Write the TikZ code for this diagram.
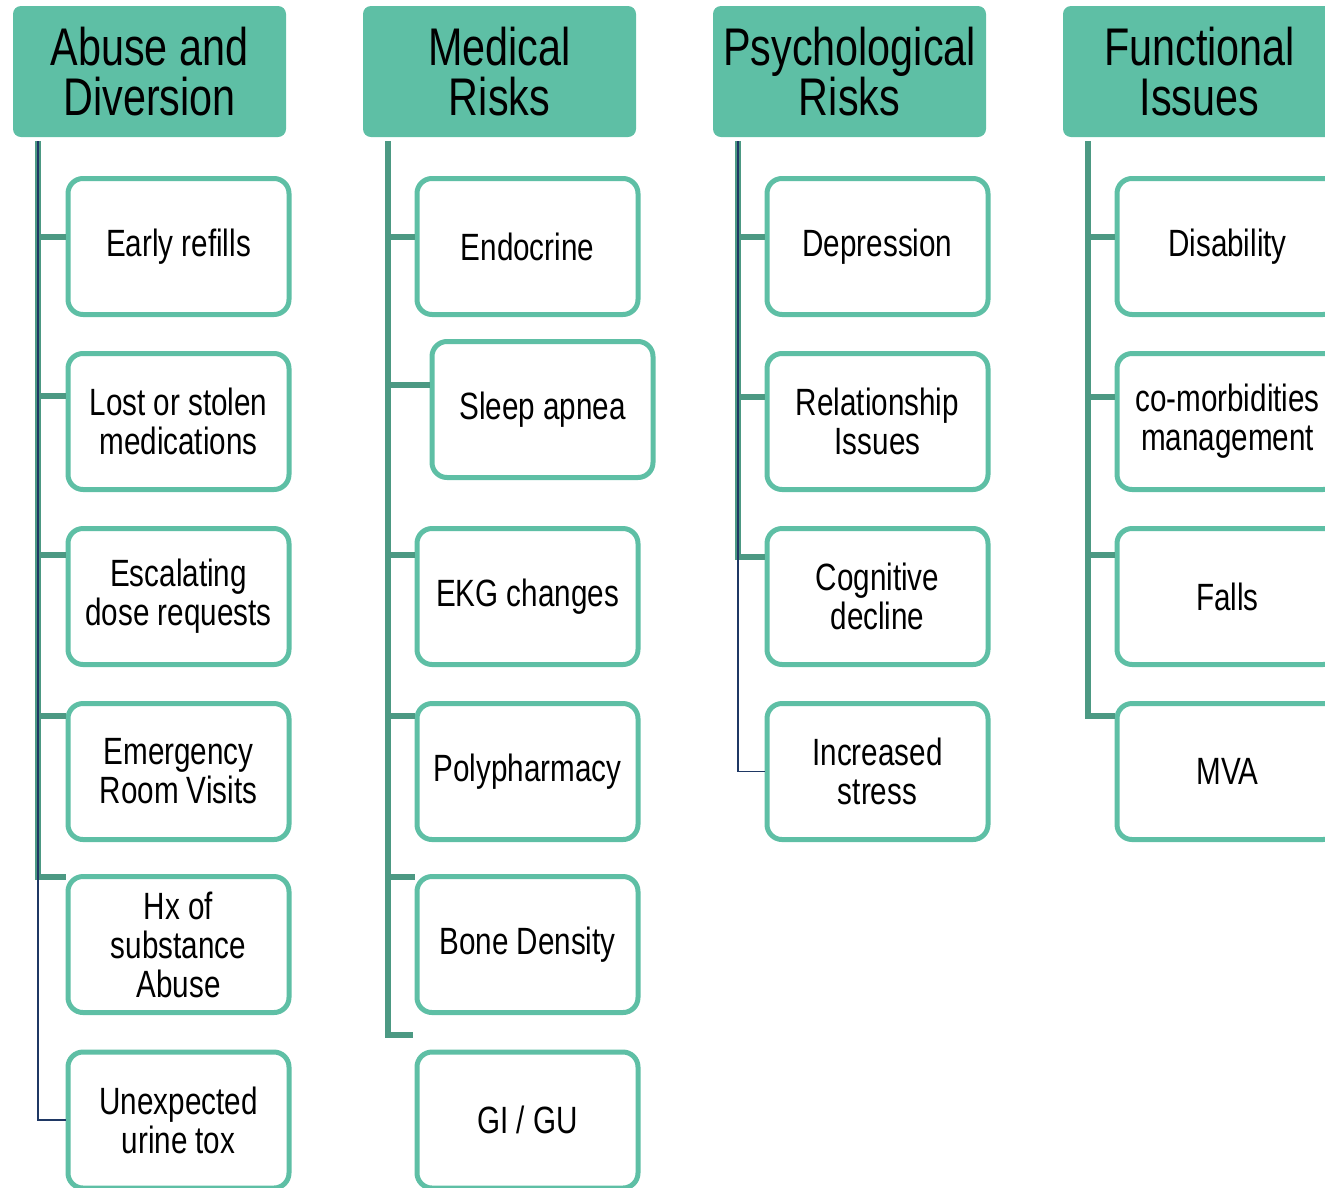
\documentclass[tikz,border=0pt]{standalone}
\usepackage{fontspec}
\setmainfont{Liberation Sans}[FakeStretch=0.78]
\definecolor{boxteal}{RGB}{94,191,165}
\definecolor{branch}{RGB}{76,153,131}
\definecolor{navyline}{RGB}{31,56,100}

\begin{document}
\begin{tikzpicture}[
        x=1pt, y=-1pt,
        head/.style={
            fill=boxteal,
            rounded corners=8pt,
            align=center,
            inner sep=0pt,
            minimum width=273pt,
            minimum height=131pt,
            font=\fontsize{53}{50}\selectfont},
        item/.style={
            draw=boxteal,
            line width=5pt,
            fill=white,
            rounded corners=15pt,
            align=center,
            inner sep=0pt,
            minimum width=221pt,
            minimum height=136pt,
            font=\fontsize{38}{39}\selectfont},
        trunk/.style={draw=branch, line width=6.5pt},
        wire/.style={draw=navyline, line width=1.8pt}]
        \clip (0,0) rectangle (1325,1187);

        % headers
        \node[head] (abuse) at (149.5,71.5) {Abuse and\\Diversion};
        \node[head] (med) at (499.5,71.5) {Medical\\Risks};
        \node[head] (psy) at (849.5,71.5) {Psychological\\Risks};
        \node[head] (func) at (1199.5,71.5) {Functional\\Issues};

        % abuse and diversion
        \node[item] (ab1) at (178.5,246.5) {Early refills};
        \node[item] (ab2) at (178.5,421.5) {Lost or stolen\\medications};
        \node[item] (ab3) at (178.5,596.5) {Escalating\\dose requests};
        \node[item] (ab4) at (178.5,771.5) {Emergency\\Room Visits};
        \node[item] (ab5) at (178.5,944.5) {Hx of\\substance\\Abuse};
        \node[item] (ab6) at (178.5,1120) {Unexpected\\urine tox};

        % medical risks
        \node[item] (md1) at (527.5,246.5) {Endocrine};
        \node[item] (md2) at (542.5,409.5) {Sleep apnea};
        \node[item] (md3) at (527.5,596.5) {EKG changes};
        \node[item] (md4) at (527.5,771.5) {Polypharmacy};
        \node[item] (md5) at (527.5,944.5) {Bone Density};
        \node[item] (md6) at (527.5,1120) {GI / GU};

        % psychological risks
        \node[item] (ps1) at (877.5,246.5) {Depression};
        \node[item] (ps2) at (877.5,421.5) {Relationship\\Issues};
        \node[item] (ps3) at (877.5,596.5) {Cognitive\\decline};
        \node[item] (ps4) at (877.5,771.5) {Increased\\stress};

        % functional issues
        \node[item] (fn1) at (1227.5,246.5) {Disability};
        \node[item] (fn2) at (1227.5,421.5) {co-morbidities\\management};
        \node[item] (fn3) at (1227.5,596.5) {Falls};
        \node[item] (fn4) at (1227.5,771.5) {MVA};

        % trunks
        \coordinate (abtop) at (38,141);
        \coordinate (mdtop) at (388,141);
        \coordinate (pstop) at (738,141);
        \coordinate (fntop) at (1088,141);
        \coordinate (mdend) at (413,1035);

        \draw[trunk] (abtop) -- (38,877) -- (0,877 -| ab5.west);
        \draw[trunk] (abtop |- 0,237) -- (0,237 -| ab1.west);
        \draw[trunk] (abtop |- 0,396) -- (0,396 -| ab2.west);
        \draw[trunk] (abtop |- 0,555) -- (0,555 -| ab3.west);
        \draw[trunk] (abtop |- 0,716) -- (0,716 -| ab4.west);
        \draw[wire] (abtop) |- (ab6.west);

        \draw[trunk] (mdtop) |- (mdend);
        \draw[trunk] (mdtop |- 0,237) -- (0,237 -| md1.west);
        \draw[trunk] (mdtop |- 0,385) -- (0,385 -| md2.west);
        \draw[trunk] (mdtop |- 0,555) -- (0,555 -| md3.west);
        \draw[trunk] (mdtop |- 0,716) -- (0,716 -| md4.west);
        \draw[trunk] (mdtop |- 0,877) -- (0,877 -| md5.west);

        \draw[trunk] (pstop) -- (738,557) -- (0,557 -| ps3.west);
        \draw[trunk] (pstop |- 0,237) -- (0,237 -| ps1.west);
        \draw[trunk] (pstop |- 0,397) -- (0,397 -| ps2.west);
        \draw[wire] (pstop) |- (ps4.west);

        \draw[trunk] (fntop) -- (1088,716) -- (0,716 -| fn4.west);
        \draw[trunk] (fntop |- 0,237) -- (0,237 -| fn1.west);
        \draw[trunk] (fntop |- 0,397) -- (0,397 -| fn2.west);
        \draw[trunk] (fntop |- 0,555) -- (0,555 -| fn3.west);
    \end{tikzpicture}
\end{document}
